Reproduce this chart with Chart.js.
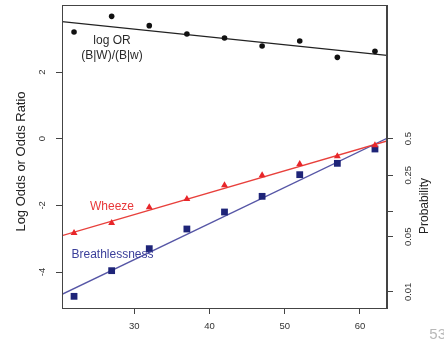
<!DOCTYPE html>
<html><head><meta charset="utf-8">
<script src="https://cdn.jsdelivr.net/npm/chart.js@4.4.1/dist/chart.umd.min.js"></script>
<style>html,body{margin:0;padding:0;background:#fff;overflow:hidden}#wrap{width:444px;height:343px;position:relative}</style>
</head><body><div id="wrap"><canvas id="c" width="444" height="343"></canvas></div>
<script>
// ---- data ----
const ages = [22, 27, 32, 37, 42, 47, 52, 57, 62];
const logOddsRatio = [3.20, 3.67, 3.39, 3.14, 3.02, 2.78, 2.93, 2.44, 2.62];
const wheezeLogOdds = [-2.83, -2.53, -2.06, -1.81, -1.40, -1.10, -0.76, -0.53, -0.20];
const breathLogOdds = [-4.73, -3.96, -3.30, -2.71, -2.20, -1.73, -1.08, -0.74, -0.31];
// fitted lines: value at left and right plot edge
const xLimits = [20.4, 63.6];
const yLimits = [-5.08, 4.01];
const fitLogORAtLimits = [3.51, 2.50];
const fitWheezeAtLimits = [-2.91, -0.07];
const fitBreathAtLimits = [-4.67, 0.01];
const xTickValues = [30, 40, 50, 60];
const yTickValues = [-4, -2, 0, 2];
const probTickValues = [0.01, 0.05, 0.1, 0.25, 0.5];
const probTickLabels = ['0.01', '0.05', '', '0.25', '0.5'];

const FONT = '"Liberation Sans", Arial, Helvetica, sans-serif';
Chart.defaults.font.family = FONT;

const pts = (ys) => ages.map((a, i) => ({x: a, y: ys[i]}));
const fit = (ends) => xLimits.map((x, i) => ({x: x, y: ends[i]}));

const tickFont = {size: 9.5, family: FONT};
const gridOpts = {display: true, drawOnChartArea: false, drawTicks: true, tickLength: 6, color: '#444', lineWidth: 1};
const fixSize = (w, h) => (s) => {
  if (w !== null) s.width = w;
  if (h !== null) s.height = h;
  s.paddingTop = 0; s.paddingBottom = 0; s.paddingLeft = 0; s.paddingRight = 0;
};

const overlay = {
  id: 'overlay',
  afterDraw(chart) {
    const ctx = chart.ctx;
    const a = chart.chartArea;
    ctx.save();
    ctx.strokeStyle = '#444';
    ctx.lineWidth = 1;
    ctx.strokeRect(Math.round(a.left) + 0.5, Math.round(a.top) + 0.5, Math.round(a.right - a.left) - 1, Math.round(a.bottom - a.top));
    ctx.textAlign = 'center';
    ctx.textBaseline = 'middle';
    ctx.font = '12px ' + FONT;
    ctx.fillStyle = '#2a2a2a';
    ctx.fillText('log OR', 112, 40.5);
    ctx.fillText('(B|W)/(B|w)', 112, 55.5);
    ctx.fillStyle = '#e8383a';
    ctx.fillText('Wheeze', 112, 207);
    ctx.fillStyle = '#3b3f9a';
    ctx.fillText('Breathlessness', 112.5, 255);
    // axis titles
    ctx.fillStyle = '#222';
    ctx.save();
    ctx.translate(21, 161.5);
    ctx.rotate(-Math.PI / 2);
    ctx.font = '13px ' + FONT;
    ctx.fillText('Log Odds or Odds Ratio', 0, 0);
    ctx.restore();
    ctx.save();
    ctx.translate(425, 206);
    ctx.rotate(-Math.PI / 2);
    ctx.font = '12px ' + FONT;
    ctx.fillText('Probability', 0, 0);
    ctx.restore();
    // page number in corner
    ctx.fillStyle = '#b8b8b8';
    ctx.font = '15px ' + FONT;
    ctx.textAlign = 'right';
    ctx.fillText('53', 446, 335);
    ctx.restore();
  }
};

new Chart(document.getElementById('c'), {
  type: 'scatter',
  data: {
    datasets: [
      {label: 'log OR (B|W)/(B|w)', data: pts(logOddsRatio), pointStyle: 'circle', pointRadius: 2.8,
       backgroundColor: '#111', borderColor: '#111', borderWidth: 0, showLine: false},
      {label: 'Wheeze', data: pts(wheezeLogOdds), pointStyle: 'triangle', pointRadius: 4,
       backgroundColor: '#e8262a', borderColor: '#e8262a', borderWidth: 0, showLine: false},
      {label: 'Breathlessness', data: pts(breathLogOdds), pointStyle: 'rect', pointRadius: 4.8,
       backgroundColor: '#1e2478', borderColor: '#1e2478', borderWidth: 0, showLine: false},
      {label: 'fit logOR', type: 'line', data: fit(fitLogORAtLimits), borderColor: '#222', borderWidth: 1.4, pointRadius: 0, fill: false},
      {label: 'fit wheeze', type: 'line', data: fit(fitWheezeAtLimits), borderColor: '#e8403c', borderWidth: 1.4, pointRadius: 0, fill: false},
      {label: 'fit breath', type: 'line', data: fit(fitBreathAtLimits), borderColor: '#5656a6', borderWidth: 1.4, pointRadius: 0, fill: false}
    ]
  },
  options: {
    responsive: false,
    animation: false,
    devicePixelRatio: 1,
    layout: {padding: {top: 5, left: 0, right: 0, bottom: 0}},
    plugins: {legend: {display: false}, tooltip: {enabled: false}},
    scales: {
      x: {
        type: 'linear', position: 'bottom', min: xLimits[0], max: xLimits[1],
        afterBuildTicks: (s) => { s.ticks = xTickValues.map(v => ({value: v})); },
        afterFit: fixSize(null, 35),
        ticks: {font: tickFont, color: '#333', padding: 7, autoSkip: false, maxRotation: 0,
                callback: (v) => String(v)},
        grid: gridOpts,
        border: {display: true, color: '#444'}
      },
      y: {
        type: 'linear', position: 'left', min: yLimits[0], max: yLimits[1],
        afterBuildTicks: (s) => { s.ticks = yTickValues.map(v => ({value: v})); },
        afterFit: fixSize(62, null),
        ticks: {font: tickFont, color: '#333', padding: 9, autoSkip: false, minRotation: 90, maxRotation: 90,
                crossAlign: 'center', callback: (v) => String(v)},
        grid: gridOpts,
        border: {display: true, color: '#444'}
      },
      y2: {
        type: 'linear', position: 'right', min: yLimits[0], max: yLimits[1],
        afterBuildTicks: (s) => { s.ticks = probTickValues.map(p => ({value: Math.log(p / (1 - p))})); },
        afterFit: fixSize(57, null),
        ticks: {font: tickFont, color: '#333', padding: 6, autoSkip: false, minRotation: 90, maxRotation: 90,
                crossAlign: 'center', callback: (v, i) => probTickLabels[i]},
        grid: gridOpts,
        border: {display: true, color: '#444'}
      }
    }
  },
  plugins: [overlay]
});
</script>
</body></html>
